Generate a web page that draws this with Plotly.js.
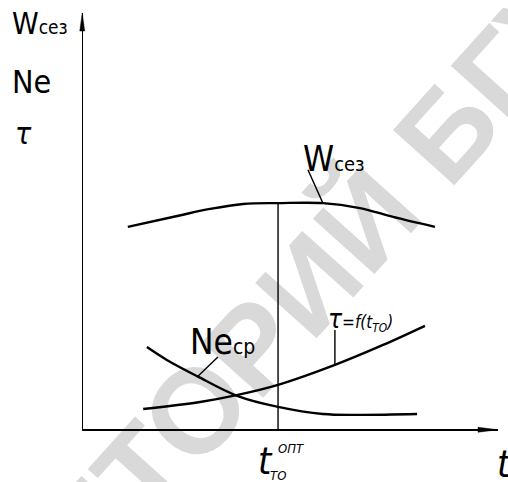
<!DOCTYPE html>
<html>
<head>
<meta charset="utf-8">
<script src="https://cdn.plot.ly/plotly-3.0.1.min.js"></script>
<style>
  html, body { margin: 0; padding: 0; background: #ffffff; }
  #chart { width: 508px; height: 482px; }
</style>
</head>
<body>
<div id="chart"></div>
<script>
// Schematic: seasonal output W, mean power Ne and downtime tau
// versus the maintenance interval t_TO (arbitrary units 0..100).

// W_сез curve
const wX = [10.8, 22.7, 30.6, 38.6, 47.0, 57.8, 66.7, 74.7, 84.8];
const wY = [48.6, 51.2, 52.9, 54.1, 54.3, 54.3, 53.1, 51.0, 48.6];

// Ne_cp curve
const neX = [15.4, 20.2, 27.5, 37.3, 47.0, 57.8, 66.7, 80.5];
const neY = [19.7, 16.6, 12.7, 7.9, 5.3, 3.6, 3.4, 3.6];

// tau = f(t_TO) curve
const tauX = [14.5, 28.2, 37.3, 47.0, 60.7, 72.3, 82.4];
const tauY = [4.8, 6.5, 8.2, 10.6, 15.4, 20.2, 24.8];

// optimum interval marker (drop line from the W maximum)
const optX = [47.0, 47.0];
const optY = [0, 54.3];

// label leader lines
const wLeadX = [57.8, 54.2];
const wLeadY = [54.3, 62.3];
const neLeadX = [27.5, 32.5];
const neLeadY = [12.5, 17.3];
const tauLeadX = [60.7, 60.7];
const tauLeadY = [15.4, 23.8];

const INK = '#000000';
const FONT = '"DejaVu Sans Condensed", "Liberation Sans Narrow", "DejaVu Sans", sans-serif';

function curve(x, y, w) {
  return {
    x: x, y: y, type: 'scatter', mode: 'lines',
    line: { color: INK, width: w, shape: 'spline', smoothing: 1 },
    hoverinfo: 'skip', showlegend: false
  };
}
function straight(x, y, w) {
  return {
    x: x, y: y, type: 'scatter', mode: 'lines',
    line: { color: INK, width: w },
    hoverinfo: 'skip', showlegend: false
  };
}

const traces = [
  curve(wX, wY, 2.4),
  curve(neX, neY, 2.4),
  curve(tauX, tauY, 2.4),
  straight(optX, optY, 1.4),
  straight(wLeadX, wLeadY, 1.4),
  straight(neLeadX, neLeadY, 1.4),
  straight(tauLeadX, tauLeadY, 1.4)
];

function label(text, x, y, size, italic) {
  return {
    xref: 'paper', yref: 'paper', x: x, y: y,
    xanchor: 'left', yanchor: 'bottom',
    text: italic ? '<i>' + text + '</i>' : text,
    showarrow: false,
    font: { family: FONT, size: size, color: INK }
  };
}

const annotations = [
  label('W<span style="font-size:19px">сез</span>', -0.176, 0.927, 30, false),
  label('Ne', -0.176, 0.784, 32, false),
  label('τ', -0.169, 0.663, 30, true),
  label('W<span style="font-size:20px">сез</span>', 0.525, 0.596, 35, false),
  label('Ne<span style="font-size:21px">cp</span>', 0.253, 0.156, 35, false),
  label('<span style="font-size:26px">τ</span>=f(t<sub>ТО</sub>)', 0.586, 0.222, 17, true),
  label('t', 0.418, -0.135, 38, true),
  label('ТО', 0.446, -0.134, 13, true),
  label('ОПТ', 0.465, -0.069, 13, true),
  label('t', 0.993, -0.142, 38, true)
];

const shapes = [
  // background stamp text
  {
    type: 'line', layer: 'below', xref: 'paper', yref: 'paper',
    x0: 0.29, y0: 0.21, x1: 0.39, y1: 0.11,
    line: { color: 'rgba(0,0,0,0)', width: 0 },
    label: {
      text: '<b>РЕПОЗИТОРИЙ БГУИР</b>', textposition: 'middle',
      textangle: -48, xanchor: 'center', yanchor: 'middle',
      font: { family: '"Liberation Sans", Arial, sans-serif', size: 120, color: '#d9d9d9' }
    }
  },
  // arrowhead on the vertical axis
  {
    type: 'path', xref: 'paper', yref: 'paper',
    xsizemode: 'pixel', ysizemode: 'pixel', xanchor: 0, yanchor: 1,
    path: 'M-0.75,0 L-3.2,-18 L1.7,-18 Z',
    fillcolor: INK, line: { color: INK, width: 0.5 }
  },
  // arrowhead on the horizontal axis
  {
    type: 'path', xref: 'paper', yref: 'paper',
    xsizemode: 'pixel', ysizemode: 'pixel', xanchor: 1, yanchor: 0,
    path: 'M0,-0.75 L-20,1.7 L-20,-3.2 Z',
    fillcolor: INK, line: { color: INK, width: 0.5 }
  }
];

const axisStyle = {
  range: [0, 100], showgrid: false, zeroline: false,
  showline: true, linecolor: INK, linewidth: 1.5,
  ticks: '', showticklabels: false, fixedrange: true
};

const layout = {
  width: 508, height: 482,
  margin: { l: 83, r: 10, t: 13, b: 53, pad: 0 },
  paper_bgcolor: '#ffffff', plot_bgcolor: 'rgba(0,0,0,0)',
  xaxis: Object.assign({}, axisStyle),
  yaxis: Object.assign({}, axisStyle),
  annotations: annotations,
  shapes: shapes,
  showlegend: false
};

Plotly.newPlot('chart', traces, layout, { displayModeBar: false, staticPlot: true });
</script>
</body>
</html>
